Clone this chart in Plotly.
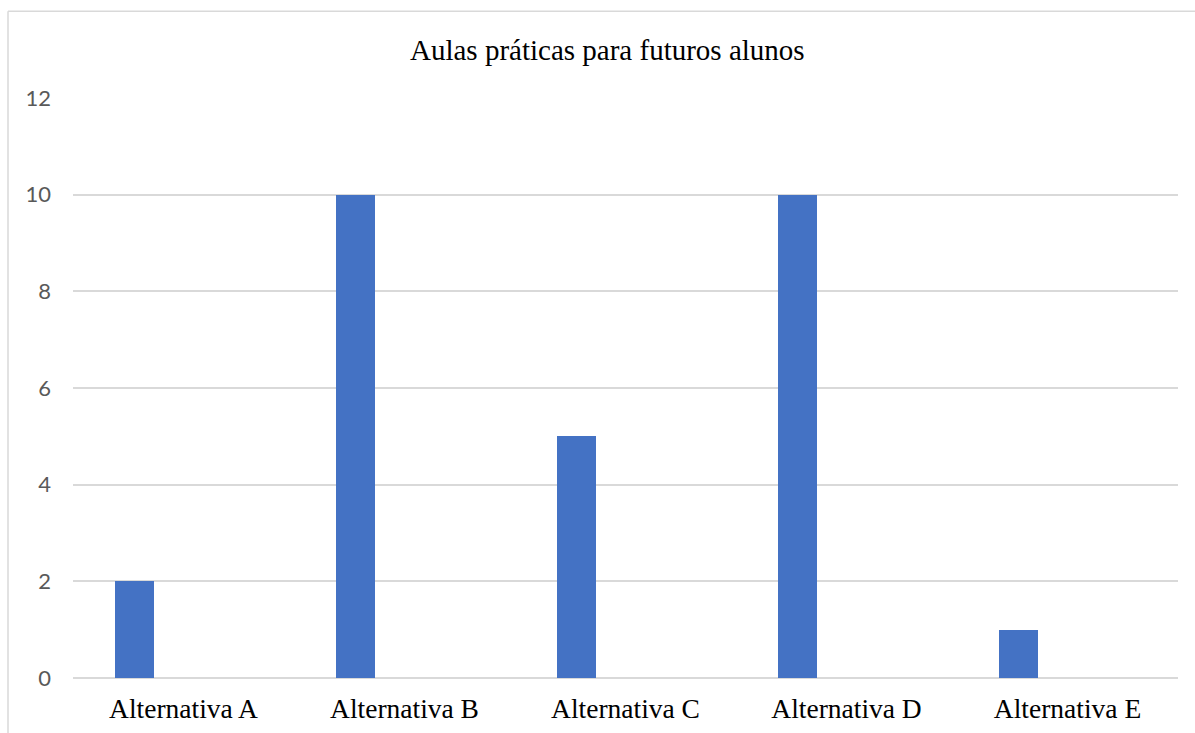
import plotly.graph_objects as go

# Respostas por alternativa
categorias = ["Alternativa A", "Alternativa B", "Alternativa C", "Alternativa D", "Alternativa E"]
respostas = [2, 10, 5, 10, 1]
y_ticks = [0, 2, 4, 6, 8, 10, 12]

W, H = 1195, 733
L, R, T, B = 73, 17, 97.7, 55
plot_w = W - L - R
plot_h = H - T - B

fig = go.Figure()
fig.add_trace(go.Bar(
    x=categorias,
    y=respostas,
    width=0.176,
    offset=-0.31,
    marker=dict(color="#4472C4", line=dict(width=0)),
    hoverinfo="x+y",
))

def px_x(p):
    return (p - L) / plot_w

def px_y(p):
    return (H - B - p) / plot_h

# Borda da área do gráfico (esquerda e topo)
grey = "#D9D9D9"
fig.add_shape(type="line", xref="paper", yref="paper",
              x0=px_x(8), x1=px_x(W + 5), y0=px_y(11), y1=px_y(11),
              line=dict(color=grey, width=1.5))
fig.add_shape(type="line", xref="paper", yref="paper",
              x0=px_x(8), x1=px_x(8), y0=px_y(11), y1=px_y(H + 5),
              line=dict(color=grey, width=1.5))

fig.add_annotation(
    text="Aulas práticas para futuros alunos",
    xref="paper", yref="paper",
    x=px_x(607), y=px_y(50),
    xanchor="center", yanchor="middle",
    showarrow=False,
    font=dict(family="Liberation Serif", size=29, color="#000000"),
)

fig.update_layout(
    width=W, height=H,
    margin=dict(l=L, r=R, t=T, b=B, pad=0, autoexpand=False),
    paper_bgcolor="white",
    plot_bgcolor="white",
    showlegend=False,
    bargap=0,
)

fig.update_xaxes(
    type="category",
    range=[-0.5, 4.5],
    automargin=False,
    showgrid=False,
    showline=False,
    zeroline=False,
    ticks="",
    tickfont=dict(family="Liberation Serif", size=27.5, color="#000000"),
    ticklabelstandoff=11,
)
fig.update_yaxes(
    range=[0, 12],
    automargin=False,
    tickvals=y_ticks,
    ticktext=[str(v) for v in y_ticks],
    showgrid=True,
    gridcolor=grey,
    gridwidth=1.5,
    zeroline=True,
    zerolinecolor=grey,
    zerolinewidth=1.5,
    showline=False,
    ticks="",
    tickfont=dict(family="Lato", size=22, color="#595959"),
    ticklabelstandoff=21,
)

fig.write_html("out.html")
